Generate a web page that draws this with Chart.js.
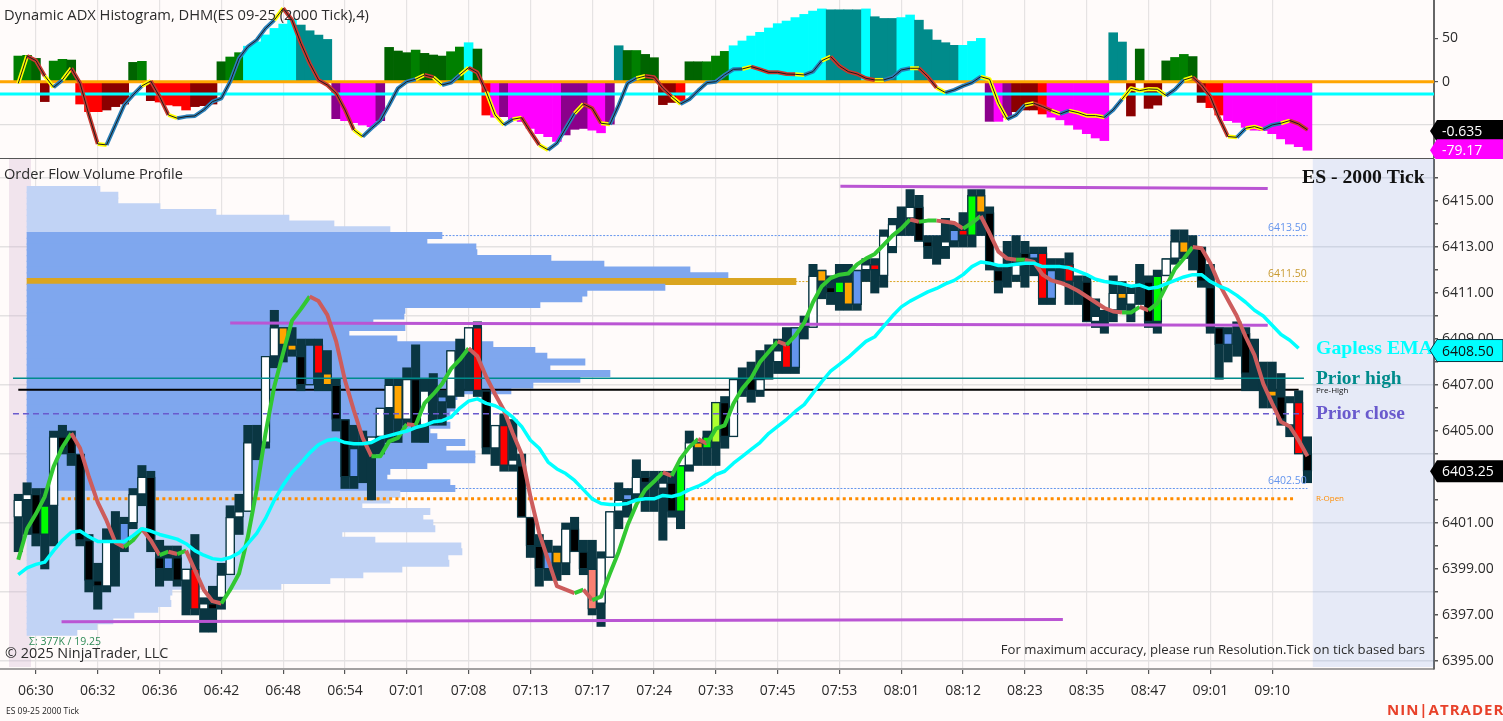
<!DOCTYPE html>
<html>
<head>
<meta charset="utf-8">
<title>ES 09-25 2000 Tick</title>
<script src="https://cdn.jsdelivr.net/npm/chart.js@4"></script>
<style>
html,body{margin:0;padding:0;background:#fffbfa;overflow:hidden}
canvas{position:absolute;left:0}
#adx{top:0}
#price{top:159px}
</style>
</head>
<body>
<canvas id="adx" width="1503" height="159"></canvas>
<canvas id="price" width="1503" height="562"></canvas>
<script>
// bar number of each time label on the axis
var tickBars = [2,9,16,23,30,37,44,51,58,65,72,79,86,93,100,107,114,121,128,135,142];
var timeLabels = ["06:30","06:32","06:36","06:42","06:48","06:54","07:01","07:08","07:13","07:17","07:24","07:33","07:45","07:53","08:01","08:12","08:23","08:35","08:47","09:01","09:10"];

var open = [6401.25,6402,6402.25,6400.5,6401.75,6404.75,6404.75,6404,6400.25,6398.5,
6398.25,6400,6401,6401,6402.25,6403,6399.5,6399.5,6399.5,6398.5,
6399,6397.25,6397.5,6397.75,6398.75,6401.25,6401.5,6404.25,6404.5,6408.25,
6409.5,6408.75,6408.25,6408.75,6408.75,6407.5,6407,6405.5,6404.25,6404,
6404.5,6404.75,6406,6407,6405.5,6407.25,6405.25,6406,6406.5,6406.5,
6408.5,6408.5,6409.5,6406.75,6404.25,6405.25,6403.5,6403.5,6401.25,6400,
6399.75,6399.75,6399.25,6400.75,6399.75,6399,6397.5,6399.5,6401.5,6402.25,
6402.25,6403,6402.75,6402.5,6402.75,6401.5,6403.5,6404.5,6404.25,6404.5,
6406.25,6404.75,6407,6407.25,6406.75,6408,6408,6408.75,6409.5,6409.5,
6409.5,6412,6411.25,6411.5,6411.5,6412,6412,6412.25,6411.75,6413,
6414.25,6414.25,6414.75,6413.25,6413,6413,6413.75,6413.75,6413.5,6415.25,
6414.5,6412,6412,6411.75,6412.75,6412.75,6412.75,6412,6411.75,6412.25,
6411,6411.5,6409.75,6410,6410.25,6411,6410.5,6411,6411.5,6409.75,
6411.75,6412.5,6413.25,6413,6413,6411.25,6409.5,6409.25,6409,6409.25,
6408,6407,6406.75,6406.5,6405.25,6406.25,6404];
var high = [6402.25,6402.75,6402.5,6402.5,6405,6405.25,6405,6404,6400.5,6399.25,
6400.75,6401.5,6401.25,6402.5,6403.5,6403.25,6400.25,6400,6400,6399,
6400.5,6397.75,6398.25,6399.25,6401.75,6402.25,6405.25,6405.25,6408.25,6410.25,
6409.5,6409.5,6409,6409,6409,6408.5,6407.25,6405.5,6405.25,6405,
6404.75,6406,6407.25,6407.25,6407.75,6408.75,6407.25,6407.5,6406.75,6408.5,
6409,6409.5,6409.75,6406.75,6405.25,6405.75,6405.5,6404,6401.25,6400.5,
6400.25,6400,6401,6401.25,6400.25,6400.25,6399.75,6401.5,6402.75,6402.5,
6403.75,6403.25,6403.25,6403.25,6403.25,6403.5,6405,6404.5,6405,6406.25,
6406.5,6407.25,6407.75,6408,6408.5,6408.75,6409,6409.5,6409.5,6410,
6412.25,6412,6411.75,6412.25,6412.25,6412,6412.5,6412.5,6413.75,6414.25,
6414.75,6415.5,6415.25,6413.5,6413.5,6414.25,6414,6414.5,6415.5,6415.5,
6414.75,6412.25,6413.25,6413.5,6413.25,6413,6413,6412.5,6412.5,6412.75,
6411.75,6411.75,6410.75,6410.25,6411.75,6411.5,6411.25,6412.25,6411.75,6412,
6412.5,6413.75,6413.75,6413.5,6413,6412.25,6409.5,6409.5,6409.75,6409.5,
6409,6408,6408,6407.5,6406.5,6406.75,6404.75];
var low = [6399.75,6400.5,6400,6399,6400,6404,6403.5,6400,6398,6397.25,
6398,6398.25,6399.75,6400.75,6401.75,6399.75,6398.25,6398.5,6398.25,6397,
6397,6396.25,6396.25,6397.25,6398.75,6400.5,6401.5,6403.75,6404.25,6407.75,
6408,6408.25,6406.75,6407,6406.75,6406.75,6405,6402.5,6402.5,6402.75,
6402,6404,6404.5,6404.5,6405.25,6404.5,6404.5,6405.25,6405.25,6406,
6406.5,6406.75,6406.5,6404,6403.5,6403.25,6403.25,6401.25,6399.5,6398.25,
6398.5,6398.5,6398.75,6399.75,6398.75,6397,6396.5,6399.5,6400.75,6401.25,
6402,6401.5,6401.5,6400.25,6401.25,6400.75,6403.25,6403.5,6403.5,6403.5,
6404.25,6404.75,6406.5,6406.25,6406.5,6407.25,6407.5,6407.5,6407.5,6409,
6409.5,6410.75,6410.5,6410.25,6410.25,6410.25,6411.5,6411,6411.25,6412.75,
6413.5,6413.5,6413.25,6412.5,6412.25,6412.5,6413,6413,6413,6413.5,
6412,6411,6411.25,6411.5,6411.25,6411.75,6410.5,6410.5,6411.5,6410.5,
6410.5,6409.75,6409.5,6409.25,6409.75,6410.25,6409.75,6410.5,6409.5,6409.25,
6411.75,6412.25,6412.5,6412,6411.25,6409.25,6407.25,6408,6408.25,6406.75,
6406.75,6406,6406,6405.25,6404.75,6404,6402.75];
var close = [6402,6402.25,6400.5,6401.75,6404.75,6404.25,6404,6400.25,6398.5,6398.25,
6400.25,6400,6400,6402.25,6403,6400.25,6399,6399,6398.5,6399,
6397.25,6397.5,6397.25,6398.75,6401.25,6401.5,6404.5,6404.25,6408.25,6409.5,
6408.75,6408.5,6407,6407,6407.5,6407,6405.5,6403,6403,6404,
6404.75,6406,6407,6405.5,6407.25,6405.25,6406.75,6406,6406.25,6408.5,
6408.5,6409.5,6406.75,6404.25,6405.25,6403.5,6403.75,6401.25,6400,6399,
6399,6399.25,6400.75,6399.75,6399,6397.25,6399.5,6401.5,6402,6402,
6403,6402.75,6402.75,6402.75,6401.5,6403.5,6404.5,6404.25,6404.75,6406.25,
6404.75,6407.25,6407,6406.75,6407.25,6408,6408.5,6407.75,6407.75,6409.5,
6411.75,6411.5,6411,6411,6410.5,6410.5,6412.25,6412,6413.5,6414,
6414.25,6414.75,6413.25,6413,6413,6413.25,6413.25,6413.5,6415.25,6414.5,
6412.25,6411.5,6412,6412.25,6412.5,6412.5,6410.75,6410.75,6411.75,6411.5,
6411,6409.75,6410,6410,6411,6410.75,6411,6411,6409.75,6411.75,
6412.5,6413.25,6412.75,6413,6411.5,6409.5,6408.75,6408.75,6409,6407.5,
6408,6407,6406.5,6405.5,6406.25,6404,6403.25];

// bars the chart paints in a signal colour
var limeBars = [3,75,78,93,108,129];
var orangeBars = [30,31,35,43,61,77,91,94,109,125,132,142];
var blueBars = [12,17,33,38,48,60,69,88,95,106,115,117,137];
var redBars = [20,34,52,55,87,97,107,116,119,145];
var salmonBars = [65];
var yellowGreenBars = [79];

var fastEma = [6399.4,6400.75,6401.4,6402.15,6403.45,6404.3,6404.9,6404.25,6403,6401.9,
6401.1,6400.15,6399.95,6400.25,6400.75,6400.25,6399.6,6399.75,6399.65,6399.8,
6398.95,6398.1,6397.6,6397.5,6398.1,6398.8,6400.4,6402.45,6404.9,6406.95,
6408.4,6409.8,6410.3,6410.85,6410.65,6410.05,6408.9,6407.2,6405.9,6404.7,
6403.9,6403.9,6404.55,6404.7,6405.3,6405.25,6406.2,6406.6,6407.05,6407.7,
6408.1,6408.6,6408.25,6407.35,6406.6,6405.9,6404.9,6404,6402.15,6400.55,
6399.4,6398.25,6398.1,6397.95,6398.1,6397.65,6397.8,6398.8,6399.75,6400.9,
6401.8,6402.45,6402.8,6403.2,6403.05,6403.8,6404.3,6404.65,6404.45,6405.1,
6405.25,6406.2,6406.85,6407.3,6408,6408.45,6408.9,6408.75,6409.15,6409.7,
6410.6,6411.3,6411.65,6411.8,6411.85,6412.25,6412.5,6412.7,6413.1,6413.5,
6413.8,6414.2,6414.1,6414.15,6414.15,6414.1,6414.05,6413.8,6414.05,6414.35,
6413.6,6412.8,6412.5,6412.45,6412.45,6412.35,6411.8,6411.55,6411.45,6411.3,
6411.1,6410.85,6410.6,6410.35,6410.2,6410.15,6410.15,6410.4,6410.25,6410.55,
6411.3,6412.05,6412.5,6413,6412.95,6412.3,6411.4,6410.7,6410,6409.1,
6408.3,6407.05,6406.2,6405.4,6405.2,6404.6,6403.9];
var gaplessEma = [6398.75,6399.05,6399.2,6399.3,6399.8,6400.25,6400.6,6400.65,6400.4,6400.2,
6400.2,6400.2,6400.2,6400.45,6400.75,6400.65,6400.5,6400.4,6400.3,6400.1,
6399.8,6399.6,6399.45,6399.4,6399.5,6399.7,6400.1,6400.55,6401.2,6402,
6402.65,6403.2,6403.6,6404.05,6404.4,6404.6,6404.65,6404.5,6404.45,6404.45,
6404.5,6404.7,6404.8,6404.9,6405,6405.15,6405.25,6405.4,6405.45,6405.6,
6406,6406.3,6406.4,6406.2,6406.1,6405.9,6405.6,6405.2,6404.6,6404.25,
6403.65,6403.35,6403.15,6402.85,6402.45,6402.05,6401.85,6401.8,6401.8,6401.85,
6402,6402.05,6402.05,6402.2,6402.15,6402.25,6402.45,6402.6,6402.8,6403.1,
6403.25,6403.6,6403.9,6404.2,6404.5,6404.9,6405.2,6405.5,6405.85,6406.15,
6406.65,6407.15,6407.6,6407.9,6408.2,6408.55,6408.9,6409.1,6409.55,6410,
6410.4,6410.65,6410.85,6411.05,6411.2,6411.4,6411.55,6411.8,6412.15,6412.35,
6412.3,6412.2,6412.2,6412.25,6412.3,6412.3,6412.15,6412.15,6412.15,6412.1,
6411.95,6411.8,6411.6,6411.5,6411.45,6411.4,6411.3,6411.35,6411.2,6411.25,
6411.4,6411.55,6411.7,6411.8,6411.8,6411.5,6411.3,6411.15,6410.9,6410.6,
6410.25,6410,6409.6,6409.2,6408.95,6408.6];

// volume profile, one row per price level
var profilePrice = [6415.5,6415.25,6415,6414.75,6414.5,6414.25,6414,6413.75,6413.5,6413.25,
6413,6412.75,6412.5,6412.25,6412,6411.75,6411.5,6411.25,6411,6410.75,
6410.5,6410.25,6410,6409.75,6409.5,6409.25,6409,6408.75,6408.5,6408.25,
6408,6407.75,6407.5,6407.25,6407,6406.75,6406.5,6406.25,6406,6405.75,
6405.5,6405.25,6405,6404.75,6404.5,6404.25,6404,6403.75,6403.5,6403.25,
6403,6402.75,6402.5,6402.25,6402,6401.75,6401.5,6401.25,6401,6400.75,
6400.5,6400.25,6400,6399.75,6399.5,6399.25,6399,6398.75,6398.5,6398.25,
6398,6397.75,6397.5,6397.25,6397,6396.75,6396.5,6396.25];
var profileVolume = [73,91,91,133,189,262,307,363,415,400,
449,450,524,577,663,701,769,638,560,555,
513,378,377,346,378,322,370,466,508,520,
558,523,583,553,506,484,430,428,428,423,
403,423,403,410,438,419,448,448,400,363,
360,423,428,373,363,335,403,396,406,408,
315,348,434,435,421,422,375,336,303,254,
145,143,144,131,107,86,70,50];
var pocPrice = 6411.5;
var valueAreaHigh = 6413.5;
var valueAreaLow = 6402.5;

// levels, each as [bar, price] ends
var rangeHigh = [[93.1,6415.65],[141.5,6415.55]];
var rangeMid = [[24,6409.7],[141.5,6409.6]];
var rangeLow = [[4.9,6396.7],[118.3,6396.8]];
var priorHigh = [[-0.6,6407.3],[145.6,6407.3]];
var preHigh = [[0,6406.8],[145,6406.8]];
var priorClose = [[-0.6,6405.75],[145.6,6405.75]];
var regularOpen = [[4.9,6402.05],[144.6,6402.05]];
var profileHighLine = [[48,6413.5],[146,6413.5]];
var pocLine = [[88,6411.5],[146,6411.5]];
var profileLowLine = [[49.5,6402.5],[146,6402.5]];

// shaded sessions in bar numbers
var sessionBands = [[-1.05,1.44],[146.6,160.33]];

// top panel: histogram, its colour state, adx line and its turning segments
var histValue = [29.6,30.4,26.9,-23,23.8,25.8,25,-25.8,-34.6,-34.6,
-32.7,-28.8,-25.8,22.3,23.5,-21.9,-23.5,-26.9,-28,-32.7,
-28.8,-27.7,-25.8,23,28.5,33.5,41,46,54,61.5,
66.5,72,65.4,58.8,53.8,48.8,-42.7,-45,-47.3,-50,
-52,-45,39.6,35.4,33.5,36.5,32.7,30.8,29.6,34.6,
40,45,37.7,-38.5,-41,-40.4,-44,-46,-54,-60,
-63.5,-69,-61.5,-55,-54,-56,-59,-49,41.5,36,
36,31.5,27.7,-26.5,-24,-23,23,23,23,29.6,
35,41.5,47,52.7,57,62,67,70,74,77.7,
81.5,84,83,83,83,83,84,75,73,73,
74,77,71,60,48,45,42,42,46.5,50,
-45.8,-45.8,-41,-34.6,-32.7,-32.7,-37.3,-41,-44,-50,
-55,-60,-65,-68,56.5,45.8,-39.6,37.7,-30.8,-27,
24,28,31.5,29,-24,-30,-38.5,-45,-47,-52.7,
-56,-56.5,-60,-66,-72,-75,-79.17];
var histState = ["G","G","D","X","G","G","D","R","R","R",
"X","X","X","D","G","X","R","R","R","R",
"X","X","X","D","G","G","C","C","C","C",
"C","C","T","T","T","T","P","M","M","M",
"M","P","D","D","D","G","D","D","D","G",
"G","C","D","R","M","P","M","M","M","M",
"M","M","P","P","P","M","M","P","T","D",
"G","D","D","X","X","R","D","D","G","G",
"G","C","C","C","C","C","C","C","C","C",
"C","C","T","T","T","T","C","T","T","T",
"C","C","T","T","T","T","T","C","C","C",
"P","M","P","X","X","X","R","M","M","M",
"M","M","M","M","T","T","X","D","X","X",
"D","G","G","D","X","R","R","M","M","M",
"M","M","M","M","M","M","M"];
var adxLine = [-1.9,29.7,24.3,6.6,-6.5,2,15.5,-1.9,-38.4,-71.9,
-73,-49.9,-26.9,-15.3,-4.9,0.8,-17.2,-38.4,-42.2,-40.3,
-39.5,-32.6,-23,-19.2,0,27,40.5,48.1,61.6,71.2,
84.7,71.2,44.3,21.2,2,-3.8,-13.4,-32.6,-55.7,-63.4,
-53.8,-44.9,-26.9,-7.6,0,2.8,7.8,5.1,-3.8,-1.1,
7.8,16.2,10.5,-11.5,-38.4,-49.9,-43.4,-41.5,-57.6,-73,
-78.8,-71.1,-53.8,-36.5,-25.7,-30.7,-48,-49.2,-26.9,-1.9,
3.9,6.6,5.1,-7.6,-17.2,-25.7,-20.3,-10.3,-1.1,0,
7.8,14.3,14.7,17.4,14.3,10.8,10.8,8.9,8.5,7.8,
11.6,24.3,28.9,18.1,11.6,8.9,3.9,2,2,5.1,
13.5,15.5,15.5,5.8,-6.9,-12.6,-9.5,-4.9,-1.1,5.8,
2.8,-24.9,-43.4,-38.4,-26.9,-24.9,-28.8,-33.4,-37.2,-33.4,
-35.7,-39.2,-39.2,-41.1,-32.6,-20.3,-7.6,-10.3,-8.4,-8.8,
-16.1,-8.8,2,5.1,-3.8,-17.2,-42.2,-63.4,-64.2,-53.8,
-51.9,-55,-49.9,-48,-44.9,-48.8,-55.7];
var adxTurn = [0,3,5,9,14,17,29,38,45,47,50,53,54,56,59,63,66,70,74,82,88,91,97,101,104,109,110,111,114,117,119,120,121,122,125,126,127,128,129,132,137,139,140,143];
var zeroLevel = [[-2.07,0],[160.33,0]];
var signalLevel = [[-2.07,-14.2],[160.33,-14.2]];

var teal = '#0a3642';
var histColors = {G:'#008000',D:'#006400',C:'#00ffff',T:'#008b8b',R:'#ff0000',X:'#8b0000',M:'#ff00ff',P:'#8b008b'};
var uiFont = '"Open Sans", "Noto Sans", sans-serif';
var serifFont = '"Liberation Serif", serif';

Chart.defaults.font.family = uiFont;
Chart.defaults.color = '#2a2a2a';
Chart.defaults.animation = false;

function pairs(list) { return list.map(function(p) { return {x:p[0], y:p[1]}; }); }
function series(list) { return list.map(function(v, i) { return {x:i, y:v}; }); }

function bodyColor(i) {
	if (limeBars.indexOf(i) >= 0) return '#00ff00';
	if (orangeBars.indexOf(i) >= 0) return '#ffa500';
	if (blueBars.indexOf(i) >= 0) return '#6495ed';
	if (redBars.indexOf(i) >= 0) return '#ff0000';
	if (salmonBars.indexOf(i) >= 0) return '#fa8072';
	if (yellowGreenBars.indexOf(i) >= 0) return '#adff2f';
	return close[i] > open[i] ? '#ffffff' : '#000000';
}
function profileColor(price) {
	if (price == pocPrice) return '#daa520';
	if (price <= valueAreaHigh && price >= valueAreaLow) return '#7fa7ee';
	return '#c1d3f5';
}
function level(list, color, width, dash) {
	return {type:'line', data:pairs(list), borderColor:color, borderWidth:width, borderDash:dash || [], pointRadius:0, xAxisID:'x', yAxisID:'y'};
}

function text(ctx, str, x, y, font, color, align) {
	ctx.font = font;
	ctx.fillStyle = color;
	ctx.textAlign = align || 'left';
	ctx.textBaseline = 'middle';
	ctx.fillText(str, x, y);
}
function tag(ctx, chart, value, label, fill, color, edge) {
	var y = chart.scales.y.getPixelForValue(value);
	ctx.beginPath();
	ctx.moveTo(1430, y);
	ctx.lineTo(1437, y - 11);
	ctx.lineTo(1503, y - 11);
	ctx.lineTo(1503, y + 11);
	ctx.lineTo(1437, y + 11);
	ctx.closePath();
	ctx.fillStyle = fill;
	ctx.fill();
	if (edge) {
		ctx.strokeStyle = edge;
		ctx.lineWidth = 1;
		ctx.stroke();
	}
	text(ctx, label, 1442, y + 1, '14px ' + uiFont, color);
}
function noPadding(s) {
	s.paddingTop = 0;
	s.paddingBottom = 0;
	s.paddingLeft = 0;
	s.paddingRight = 0;
}

var xScale = {
	type:'linear', min:-2.07, max:160.33, offset:false,
	afterBuildTicks:function(s) { s.ticks = tickBars.map(function(v) { return {value:v}; }); },
	grid:{offset:false, color:'#e6e3e3', tickColor:'#555', tickLength:5, lineWidth:1.2},
	border:{color:'#a3a1a1', width:2}
};

// top panel
new Chart(document.getElementById('adx'), {
	type:'bar',
	data:{datasets:[
		{type:'line', data:series(adxLine), borderColor:'#1c1c1c', borderWidth:1, pointRadius:0},
		{type:'line', data:series(adxLine), borderWidth:4, pointRadius:0, borderJoinStyle:'round',
			segment:{borderColor:function(c) {
				if (adxTurn.indexOf(c.p0DataIndex) >= 0) return '#ffff00';
				return c.p1.parsed.y > c.p0.parsed.y ? '#2a7fb8' : '#c8392f';
			}}},
		level(zeroLevel, '#ffa500', 3),
		level(signalLevel, '#00ffff', 3),
		{data:series(histValue), grouped:false, barThickness:8.9, backgroundColor:histState.map(function(s) { return histColors[s]; })}
	]},
	options:{
		responsive:false,
		layout:{padding:0},
		plugins:{legend:{display:false}, tooltip:{enabled:false}},
		scales:{
			x:Object.assign({}, xScale, {
				afterFit:function(s) { s.height = 1; noPadding(s); },
				ticks:{display:false},
				grid:{offset:false, color:'#e6e3e3', lineWidth:1.2, drawTicks:false},
				border:{display:false}
			}),
			y:{
				type:'linear', position:'right', min:-88.1, max:94.3, offset:false,
				afterFit:function(s) { s.width = 69; noPadding(s); },
				ticks:{stepSize:50, includeBounds:false, padding:4, font:{size:14},
					callback:function(v) { return v < 0 ? '' : String(v); }},
				grid:{offset:false, color:function(c) { return c.tick.value == -50 ? '#e0dede' : 'rgba(0,0,0,0)'; }, tickColor:'#555', tickLength:4, lineWidth:1.2},
				border:{color:'#666', width:2}
			}
		}
	},
	plugins:[{
		id:'adxText',
		afterDraw:function(chart) {
			var ctx = chart.ctx;
			ctx.save();
			text(ctx, 'Dynamic ADX Histogram, DHM(ES 09-25 (2000 Tick),4)', 4, 16, '14.7px ' + uiFont, '#2b2b2b');
			ctx.fillStyle = '#555';
			ctx.fillRect(0, 158, 1434, 1);
			tag(ctx, chart, -57, '-0.635', '#000000', '#ffffff');
			tag(ctx, chart, -79.17, '-79.17', '#ff00ff', '#ffffff');
			ctx.restore();
		}
	}]
});

// price panel
var priceData = [
	{type:'line', data:series(gaplessEma), borderColor:'#00ffff', borderWidth:3.5, pointRadius:0, borderJoinStyle:'round'},
	{type:'line', data:series(fastEma), borderWidth:4, pointRadius:0, borderJoinStyle:'round',
		segment:{borderColor:function(c) { return c.p1.parsed.y >= c.p0.parsed.y ? '#32c832' : '#cd5c5c'; }}},
	level(rangeHigh, '#ba55d3', 3),
	level(rangeMid, '#ba55d3', 3),
	level(rangeLow, '#ba55d3', 3),
	level(priorHigh, '#008b8b', 1.5),
	level(priorClose, '#6a5acd', 1.5, [6,4]),
	{data:close.map(function(c, i) { return {x:i, y:[open[i], c]}; }), grouped:false, barThickness:9, borderWidth:1.4, borderSkipped:false, borderColor:teal,
		backgroundColor:close.map(function(c, i) { return bodyColor(i); })},
	{data:high.map(function(h, i) { return {x:i, y:[low[i], h]}; }), grouped:false, barThickness:8.4, backgroundColor:teal},
	level(preHigh, '#000000', 2),
	level(regularOpen, '#ff8c00', 3, [3,3.3]),
	level(profileHighLine, '#6495ed', 1, [2,1.5]),
	level(pocLine, '#daa520', 1, [2,1.5]),
	level(profileLowLine, '#6495ed', 1, [2,1.5]),
	{data:profileVolume.map(function(v, i) { return {x:v, y:profilePrice[i]}; }), indexAxis:'y', xAxisID:'xV', yAxisID:'y', grouped:false, barThickness:6.3,
		backgroundColor:profilePrice.map(profileColor)}
];

new Chart(document.getElementById('price'), {
	type:'bar',
	data:{datasets:priceData},
	options:{
		responsive:false,
		layout:{padding:0},
		plugins:{legend:{display:false}, tooltip:{enabled:false}},
		scales:{
			x:Object.assign({}, xScale, {
				afterFit:function(s) { s.height = 52; noPadding(s); },
				ticks:{autoSkip:false, maxRotation:0, padding:9, font:{size:14}, callback:function(v) { return timeLabels[tickBars.indexOf(v)]; }}
			}),
			xV:{type:'linear', axis:'x', display:false, min:-27, max:1407, offset:false},
			y:{
				type:'linear', position:'right', min:6394.65, max:6416.83, offset:false,
				afterFit:function(s) { s.width = 69; noPadding(s); },
				ticks:{stepSize:1, includeBounds:false, autoSkip:false, padding:4, font:{size:14},
					callback:function(v) { return v % 2 == 1 ? v.toFixed(2) : ''; }},
				grid:{offset:false, color:function(c) { return c.tick.value % 3 == 2 ? '#e4e2e2' : 'rgba(0,0,0,0)'; }, tickColor:'#555', tickLength:4, lineWidth:1.5},
				border:{color:'#666', width:2}
			}
		}
	},
	plugins:[{
		id:'sessions',
		beforeDatasetsDraw:function(chart) {
			var ctx = chart.ctx, x = chart.scales.x, a = chart.chartArea;
			var bandColors = ['rgba(205,170,205,0.28)', 'rgba(100,149,237,0.16)'];
			sessionBands.forEach(function(b, i) {
				ctx.fillStyle = bandColors[i];
				ctx.fillRect(x.getPixelForValue(b[0]), a.top, x.getPixelForValue(b[1]) - x.getPixelForValue(b[0]), a.height - 2);
			});
		},
		afterDraw:function(chart) {
			var ctx = chart.ctx;
			var top = -159;
			ctx.save();
			text(ctx, 'Order Flow Volume Profile', 4, 175 + top, '14.6px ' + uiFont, '#2b2b2b');
			text(ctx, 'ES - 2000 Tick', 1302, 178 + top, 'bold 19.7px ' + serifFont, '#111');
			text(ctx, 'Gapless EMA', 1316, 349 + top, 'bold 19.8px ' + serifFont, '#00ffff');
			text(ctx, 'Prior high', 1316, 379 + top, 'bold 19.4px ' + serifFont, '#008b8b');
			text(ctx, 'Pre-High', 1316, 391 + top, '8px ' + uiFont, '#111');
			text(ctx, 'Prior close', 1316, 414 + top, 'bold 19.4px ' + serifFont, '#6a5acd');
			text(ctx, 'R-Open', 1316, 499 + top, '8px ' + uiFont, '#ff8c00');
			text(ctx, '6413.50', 1268, 228 + top, '10.5px ' + uiFont, '#6495ed');
			text(ctx, '6411.50', 1268, 274 + top, '10.5px ' + uiFont, '#c89a30');
			text(ctx, '6402.50', 1268, 481 + top, '10.5px ' + uiFont, '#6495ed');
			text(ctx, '\u03a3: 377K / 19.25', 29, 642 + top, '10.5px ' + uiFont, '#2e8b57');
			text(ctx, '\u00a9 2025 NinjaTrader, LLC', 5, 654 + top, '14.4px ' + uiFont, '#2b2b2b');
			text(ctx, 'For maximum accuracy, please run Resolution.Tick on tick based bars', 1425, 650 + top, '13.15px ' + uiFont, '#2b2b2b', 'right');
			text(ctx, 'ES 09-25 2000 Tick', 6, 712 + top, '8.5px ' + uiFont, '#222');
			ctx.letterSpacing = '1px';
			text(ctx, 'NIN|ATRADER', 1387, 711 + top, 'bold 15px ' + uiFont, '#e8412a');
			ctx.letterSpacing = '0px';
			tag(ctx, chart, 6408.5, '6408.50', '#00ffff', '#111', '#0a3642');
			tag(ctx, chart, 6403.25, '6403.25', '#000000', '#ffffff');
			ctx.restore();
		}
	}]
});
</script>
</body>
</html>
